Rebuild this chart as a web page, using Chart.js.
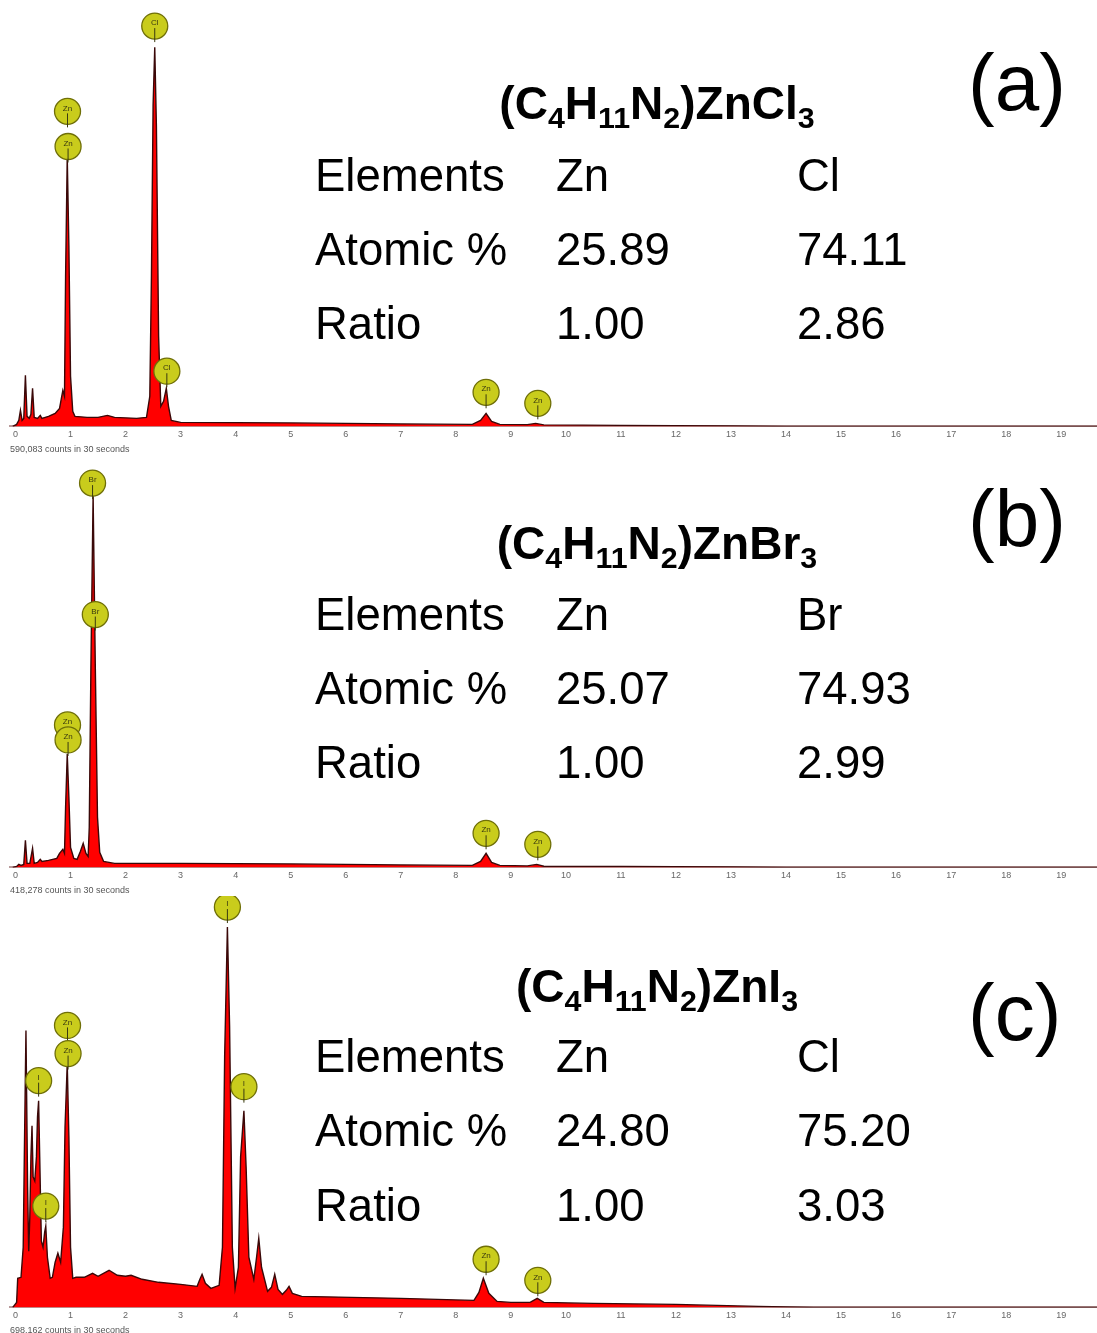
<!DOCTYPE html>
<html>
<head>
<meta charset="utf-8">
<script src="https://cdn.jsdelivr.net/npm/chart.js@4.4.1/dist/chart.umd.min.js"></script>
<style>
  body { margin: 0; width: 1097px; height: 1333px; overflow: hidden; background: #fff; position: relative; font-family: "Liberation Sans", Arial, sans-serif; }
  canvas { position: absolute; left: 0; }
  .txt { position: absolute; color: #000; line-height: 1; white-space: nowrap; }
  .formula { font-weight: bold; font-size: 46px; width: 400px; text-align: center; }
  .formula sub { font-size: 0.66em; vertical-align: -0.3em; line-height: 0; }
  .cell { font-size: 45.5px; }
  .tag { font-size: 80px; }
</style>
</head>
<body>
<canvas id="panelA" width="1097" height="455" style="top:0px"></canvas>
<canvas id="panelB" width="1097" height="441" style="top:455px"></canvas>
<canvas id="panelC" width="1097" height="440" style="top:896px"></canvas>
<div id="labels"></div>
<script>
// x axis ticks (keV)
const keVTicks = [0, 1, 2, 3, 4, 5, 6, 7, 8, 9, 10, 11, 12, 13, 14, 15, 16, 17, 18, 19];

// (a) (C4H11N2)ZnCl3 spectrum, energy in keV, intensity in relative units
const energyA = [-0.05, 0.02, 0.06, 0.09, 0.12, 0.15, 0.18, 0.21, 0.25, 0.28, 0.31, 0.34, 0.40, 0.45, 0.48, 0.60, 0.72, 0.80, 0.86, 0.89, 0.91, 0.94, 0.97, 1.00, 1.04, 1.08, 1.30, 1.50, 1.67, 1.80, 2.20, 2.38, 2.44, 2.47, 2.50, 2.53, 2.56, 2.60, 2.64, 2.69, 2.74, 2.78, 2.83, 3.00, 5.00, 7.00, 8.30, 8.45, 8.55, 8.65, 8.80, 9.30, 9.45, 9.60, 11.0, 13.0, 14.0, 19.65];
const countsA = [0, 2, 6, 16, 6, 8, 51, 10, 8, 12, 38, 9, 8, 11, 8, 10, 13, 18, 36, 30, 150, 269, 180, 50, 15, 10, 9, 9, 11, 9, 8, 9, 30, 150, 320, 378, 300, 90, 20, 25, 38, 20, 6, 4, 3.5, 2.5, 2, 6, 13, 5, 2, 1.8, 3, 1.5, 1, 0.5, 0, 0];
const markerKeVA = [0.945, 0.955, 2.53, 2.75, 8.55, 9.49];
const markerHeightA = [314, 279, 399, 55, 34, 23];
const markerLabelA = ['Zn', 'Zn', 'Cl', 'Cl', 'Zn', 'Zn'];

// (b) (C4H11N2)ZnBr3 spectrum
const energyB = [-0.05, 0.02, 0.06, 0.10, 0.15, 0.18, 0.21, 0.26, 0.31, 0.34, 0.40, 0.45, 0.48, 0.60, 0.75, 0.80, 0.86, 0.89, 0.91, 0.94, 0.97, 1.00, 1.06, 1.12, 1.18, 1.23, 1.28, 1.32, 1.34, 1.37, 1.41, 1.45, 1.49, 1.53, 1.60, 1.80, 3.00, 5.00, 7.00, 8.30, 8.45, 8.55, 8.65, 8.80, 9.30, 9.47, 9.60, 11.0, 13.0, 14.0, 19.65];
const countsB = [0, 1, 3, 2, 3, 27, 4, 4, 19, 4, 5, 8, 6, 7, 9, 14, 18, 14, 60, 113, 70, 20, 9, 8, 16, 24, 14, 11, 40, 200, 371, 200, 50, 15, 6, 4, 4, 3.5, 2.5, 2, 6, 14, 5, 2, 1.5, 3, 1.2, 1, 0.5, 0, 0];
const markerKeVB = [1.40, 1.45, 0.945, 0.955, 8.55, 9.49];
const markerHeightB = [383, 252, 142, 127, 34, 23];
const markerLabelB = ['Br', 'Br', 'Zn', 'Zn', 'Zn', 'Zn'];

// (c) (C4H11N2)ZnI3 spectrum
const energyC = [-0.05, 0.02, 0.04, 0.10, 0.14, 0.16, 0.19, 0.22, 0.24, 0.26, 0.28, 0.30, 0.32, 0.35, 0.38, 0.40, 0.42, 0.44, 0.47, 0.50, 0.53, 0.55, 0.58, 0.63, 0.67, 0.72, 0.77, 0.82, 0.87, 0.90, 0.94, 0.97, 1.00, 1.04, 1.10, 1.25, 1.40, 1.50, 1.70, 1.85, 2.00, 2.10, 2.30, 2.60, 3.00, 3.30, 3.35, 3.39, 3.45, 3.55, 3.70, 3.76, 3.80, 3.85, 3.89, 3.94, 3.99, 4.05, 4.09, 4.15, 4.19, 4.24, 4.33, 4.38, 4.42, 4.47, 4.58, 4.65, 4.71, 4.77, 4.85, 4.92, 4.97, 5.03, 5.20, 7.00, 8.33, 8.42, 8.50, 8.60, 8.75, 9.00, 9.35, 9.48, 9.60, 10.5, 12.0, 13.5, 14.5, 19.65];
const countsC = [0, 5, 29, 30, 60, 150, 276, 120, 56, 90, 150, 181, 130, 126, 150, 190, 206, 150, 66, 60, 75, 81, 50, 29, 30, 45, 54, 45, 80, 180, 243, 170, 60, 29, 30, 30, 34, 31, 37, 32, 31, 32, 28, 25, 23, 21, 28, 33, 24, 19, 22, 60, 250, 379, 280, 60, 19, 40, 150, 196, 140, 50, 28, 50, 69, 40, 16, 20, 33, 18, 13, 17, 21, 14, 11, 9, 7, 15, 29, 14, 6, 5, 5, 9, 5, 4, 3, 1, 0, 0];
const markerKeVC = [3.85, 0.945, 0.955, 0.42, 0.55, 4.15, 8.55, 9.49];
const markerHeightC = [399, 281, 253, 226, 101, 220, 48, 27];
const markerLabelC = ['I', 'Zn', 'Zn', 'I', 'I', 'I', 'Zn', 'Zn'];

// composition tables
const rowNames = ['Elements', 'Atomic %', 'Ratio'];
const elementsA = ['Zn', 'Cl'];
const atomicA = ['25.89', '74.11'];
const ratioA = ['1.00', '2.86'];
const elementsB = ['Zn', 'Br'];
const atomicB = ['25.07', '74.93'];
const ratioB = ['1.00', '2.99'];
const elementsC = ['Zn', 'Cl'];
const atomicC = ['24.80', '75.20'];
const ratioC = ['1.00', '3.03'];

const markerPlugin = {
  id: 'peakMarkers',
  afterDatasetsDraw(chart, args, opts) {
    const {ctx, scales: {x, y}} = chart;
    const r = 13;
    ctx.save();
    opts.keV.forEach((kev, i) => {
      const px = x.getPixelForValue(kev);
      const py = y.getPixelForValue(opts.height[i]);
      ctx.beginPath();
      ctx.arc(px, py, r, 0, Math.PI * 2);
      ctx.fillStyle = '#c9cc1c';
      ctx.fill();
      ctx.lineWidth = 1.3;
      ctx.strokeStyle = '#6f6f08';
      ctx.stroke();
      ctx.beginPath();
      ctx.moveTo(px, py + 2);
      ctx.lineTo(px, py + r + 3);
      ctx.lineWidth = 1;
      ctx.strokeStyle = '#3a3a10';
      ctx.stroke();
      ctx.fillStyle = '#3a3a10';
      ctx.font = '8px "Liberation Sans"';
      ctx.textAlign = 'center';
      ctx.textBaseline = 'middle';
      ctx.fillText(opts.label[i], px, py - 3);
    });
    ctx.restore();
  }
};

function makePanel(id, energy, counts, mKeV, mHeight, mLabel, countsText) {
  const canvas = document.getElementById(id);
  const top = canvas.height - 30;
  return new Chart(canvas.getContext('2d'), {
    type: 'line',
    data: {
      datasets: [{
        data: energy.map((e, i) => ({x: e, y: counts[i]})),
        borderColor: '#3a0808',
        borderWidth: 1.4,
        backgroundColor: '#ff0000',
        fill: 'origin',
        pointRadius: 0,
        tension: 0
      }]
    },
    options: {
      responsive: false,
      animation: false,
      layout: {padding: {left: 10, right: 0, top: 0, bottom: 0}},
      plugins: {
        legend: {display: false},
        tooltip: {enabled: false},
        peakMarkers: {keV: mKeV, height: mHeight, label: mLabel}
      },
      scales: {
        x: {
          type: 'linear',
          min: -0.1,
          max: 19.65,
          afterBuildTicks: s => { s.ticks = keVTicks.map(v => ({value: v})); },
          grid: {display: false, drawTicks: false},
          border: {display: true, color: '#b89a9a', width: 2},
          ticks: {autoSkip: false, maxRotation: 0, padding: 3, color: '#666', font: {size: 9, family: 'Liberation Sans'}},
          title: {display: true, text: countsText, align: 'start', color: '#555', padding: {top: 1, bottom: 0}, font: {size: 9, family: 'Liberation Sans'}}
        },
        y: {display: false, min: 0, max: top}
      }
    },
    plugins: [markerPlugin]
  });
}

makePanel('panelA', energyA, countsA, markerKeVA, markerHeightA, markerLabelA, '590,083 counts in 30 seconds');
makePanel('panelB', energyB, countsB, markerKeVB, markerHeightB, markerLabelB, '418,278 counts in 30 seconds');
makePanel('panelC', energyC, countsC, markerKeVC, markerHeightC, markerLabelC, '698,162 counts in 30 seconds');

// text overlays
const holder = document.getElementById('labels');
function addText(cls, html, left, centerY, size) {
  const d = document.createElement('div');
  d.className = 'txt ' + cls;
  d.innerHTML = html;
  d.style.left = left + 'px';
  d.style.top = (centerY - 0.49 * size) + 'px';
  holder.appendChild(d);
}
function addPanelText(formula, formulaY, tag, tagX, tagY, rowY, elements, atomic, ratio) {
  addText('formula', formula, 657 - 200, formulaY, 46);
  addText('tag', tag, tagX, tagY, 80);
  const cols = [rowNames, [elements[0], atomic[0], ratio[0]], [elements[1], atomic[1], ratio[1]]];
  const colX = [315, 556, 797];
  cols.forEach((col, c) => col.forEach((t, r) => addText('cell', t, colX[c], rowY[r], 45.5)));
}
addPanelText('(C<sub>4</sub>H<sub>11</sub>N<sub>2</sub>)ZnCl<sub>3</sub>', 103, '(a)', 968, 82, [175, 249, 323], elementsA, atomicA, ratioA);
addPanelText('(C<sub>4</sub>H<sub>11</sub>N<sub>2</sub>)ZnBr<sub>3</sub>', 543, '(b)', 968, 518, [614, 688, 762], elementsB, atomicB, ratioB);
addPanelText('(C<sub>4</sub>H<sub>11</sub>N<sub>2</sub>)ZnI<sub>3</sub>', 986, '(c)', 968, 1012, [1056, 1130, 1205], elementsC, atomicC, ratioC);
</script>
</body>
</html>
